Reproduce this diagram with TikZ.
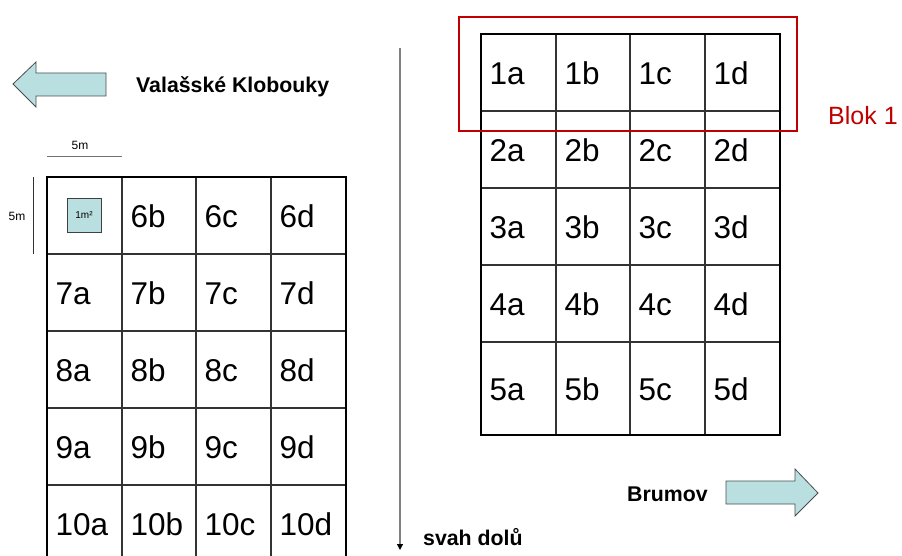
\documentclass[tikz,border=0pt]{standalone}
\usepackage{fontspec}
\setmainfont{Liberation Sans}
\usetikzlibrary{arrows.meta}
\definecolor{arrfill}{RGB}{185,223,225}
\definecolor{blokred}{RGB}{192,0,0}
\tikzset{
  cell/.style={anchor=base west,inner sep=0pt,font=\fontsize{31.5}{34}\selectfont},
  bold/.style={inner sep=0pt,font=\fontsize{21.3}{24}\selectfont\bfseries},
  small/.style={inner sep=0pt,font=\fontsize{12}{14}\selectfont},
  outer/.style={line width=2.5pt,black},
  inner/.style={line width=1.1pt,black!80},
  bigarrow/.style={draw=black!70,fill=arrfill,line width=0.8pt}
}
\begin{document}
\begin{tikzpicture}[x=1pt,y=-1pt]
\useasboundingbox (0,0) rectangle (902,556);
\clip (0,0) rectangle (902,556);
% right grid
\foreach \x in {556,630,705} \draw[inner] (\x,34) -- (\x,435);
\foreach \y in {111,188,265,342} \draw[inner] (481,\y) -- (780,\y);
\draw[outer] (481,34) rectangle (780,435);
\foreach \r/\cy in {1/72.5,2/149.5,3/226.5,4/303.5,5/388.5}{
  \foreach \c/\cx in {a/481,b/556,c/630,d/705}{
    \node[cell] (r\r\c) at (\cx+8.5,\cy+12) {\r\c};
  }
}
% left grid
\foreach \x in {122,196,271} \draw[inner] (\x,177) -- (\x,562);
\foreach \y in {254,331,408,485} \draw[inner] (47,\y) -- (346,\y);
\draw[outer] (47,177) rectangle (346,562);
\foreach \r/\cy in {6/215.5,7/292.5,8/369.5,9/446.5,10/523.5}{
  \foreach \c/\cx in {a/47,b/122,c/196,d/271}{
    \ifnum\r=6 \if\c a\else
      \node[cell] (l\r\c) at (\cx+8.5,\cy+12) {\r\c};
    \fi\else
      \node[cell] (l\r\c) at (\cx+8.5,\cy+12) {\r\c};
    \fi
  }
}
% 1m2 square
\node[draw=black!75,fill=arrfill,line width=0.8pt,minimum width=34pt,minimum height=34pt,inner sep=0pt,
  font=\fontsize{10}{12}\selectfont] (sq) at (84,215) {1m²};
% scale bars
\draw[black!55,line width=1pt] (47,157) -- (122,157);
\node[small] (s5h) at (80,145) {5m};
\draw[black!80,line width=1pt] (33,177) -- (33,254);
\node[small] (s5v) at (17,216) {5m};
% red block
\draw[blokred,line width=2.6pt] (459,17) rectangle (797,131);
\node[inner sep=0pt,font=\fontsize{25}{28}\selectfont,text=blokred,anchor=west] (blok) at (828,116) {Blok 1};
% slope arrow
\coordinate (st) at (400,48);
\coordinate (en) at (400,550);
\draw[black!50,line width=1.2pt,-{Triangle[black,length=6pt,width=6pt]}] (st) -- (en);
\node[bold,anchor=west] (svah) at (423,537) {svah dolů};
% direction arrows
\draw[bigarrow] (13,84) -- (36,62) -- (36,73) -- (106,73) -- (106,96) -- (36,96) -- (36,107) -- cycle;
\node[bold,anchor=west] (vk) at (136,87) {Valašské Klobouky};
\draw[bigarrow] (818,493) -- (795,469) -- (795,481) -- (726,481) -- (726,504) -- (795,504) -- (795,516) -- cycle;
\node[bold,anchor=west] (br) at (627,494) {Brumov};
\end{tikzpicture}
\end{document}
